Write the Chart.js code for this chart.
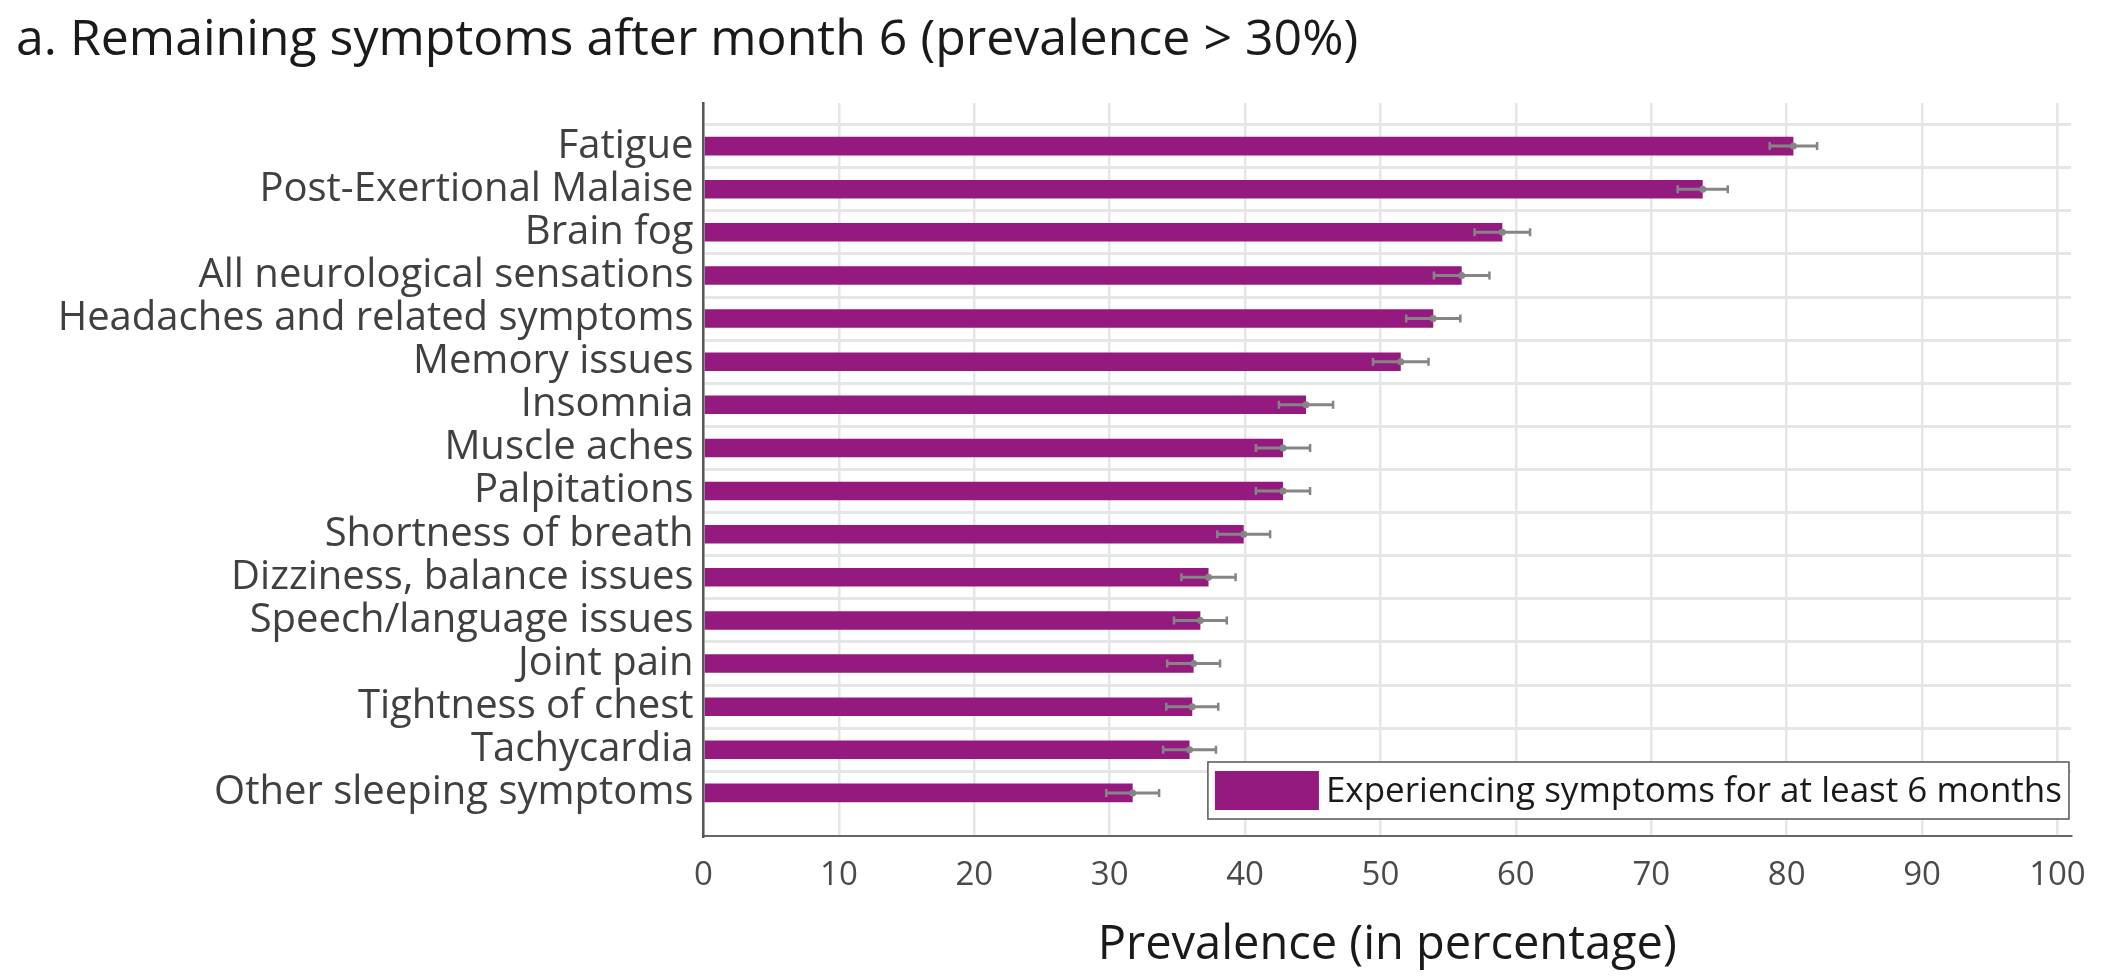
<!DOCTYPE html>
<html>
<head>
<meta charset="utf-8">
<script src="https://cdn.jsdelivr.net/npm/chart.js@4.4.1/dist/chart.umd.min.js"></script>
<style>
  html, body { margin: 0; padding: 0; background: #fff; }
  #wrap { width: 2106px; height: 978px; position: relative; }
</style>
</head>
<body>
<div id="wrap"><canvas id="chart"></canvas></div>
<script>
const symptoms = [
    'Fatigue',
    'Post-Exertional Malaise',
    'Brain fog',
    'All neurological sensations',
    'Headaches and related symptoms',
    'Memory issues',
    'Insomnia',
    'Muscle aches',
    'Palpitations',
    'Shortness of breath',
    'Dizziness, balance issues',
    'Speech/language issues',
    'Joint pain',
    'Tightness of chest',
    'Tachycardia',
    'Other sleeping symptoms'
];
const prevalence = [80.5, 73.8, 59.0, 56.0, 53.9, 51.5, 44.5, 42.8, 42.8, 39.9, 37.3, 36.7, 36.2, 36.1, 35.9, 31.7];
const errorHalf = [1.75, 1.85, 2.05, 2.05, 2.0, 2.05, 2.0, 2.0, 2.0, 1.95, 2.0, 1.95, 1.95, 1.92, 1.95, 1.95];
const xTicks = [0, 10, 20, 30, 40, 50, 60, 70, 80, 90, 100];
const seriesLabel = 'Experiencing symptoms for at least 6 months';
const chartTitle = 'a. Remaining symptoms after month 6 (prevalence > 30%)';
const axisTitle = 'Prevalence (in percentage)';

const FONT = "'Open Sans', sans-serif";
const PURPLE = '#951a7f';

// blank slot above and below so bars sit one row in from the frame
const labels = [''].concat(symptoms, ['']);
const values = [null].concat(prevalence, [null]);
const errs = [null].concat(errorHalf, [null]);

const errorBars = {
    id: 'errorBars',
    afterDatasetsDraw(chart) {
        const ctx = chart.ctx;
        const x = chart.scales.x;
        const y = chart.scales.y;
        ctx.save();
        ctx.strokeStyle = '#858585';
        ctx.fillStyle = '#858585';
        values.forEach((v, i) => {
            if (v == null) return;
            const yc = y.getPixelForValue(i);
            const x0 = x.getPixelForValue(v - errs[i]);
            const x1 = x.getPixelForValue(v + errs[i]);
            ctx.lineWidth = 3;
            ctx.beginPath();
            ctx.moveTo(x0, yc);
            ctx.lineTo(x1, yc);
            ctx.stroke();
            ctx.lineWidth = 2.5;
            ctx.beginPath();
            ctx.moveTo(x0, yc - 4); ctx.lineTo(x0, yc + 4);
            ctx.moveTo(x1, yc - 4); ctx.lineTo(x1, yc + 4);
            ctx.stroke();
            ctx.beginPath();
            ctx.arc(x.getPixelForValue(v), yc, 3.5, 0, Math.PI * 2);
            ctx.fill();
        });
        ctx.restore();
    }
};

// boxed legend sitting inside the plot, bottom right
const boxLegend = {
    id: 'boxLegend',
    afterDraw(chart) {
        const ctx = chart.ctx;
        const area = chart.chartArea;
        const ds = chart.data.datasets[0];
        ctx.save();
        ctx.font = '35px ' + FONT;
        const tw = ctx.measureText(ds.label).width;
        const w = 7 + 104 + 7 + tw + 7;
        const h = 57;
        const right = area.right - 2;
        const bottom = area.bottom - 17;
        const left = right - w;
        const top = bottom - h;
        ctx.fillStyle = '#fff';
        ctx.fillRect(left, top, w, h);
        ctx.strokeStyle = '#555';
        ctx.lineWidth = 1.5;
        ctx.strokeRect(left, top, w, h);
        ctx.fillStyle = ds.backgroundColor;
        ctx.fillRect(left + 7, top + 9, 104, 39);
        ctx.fillStyle = '#1a1a1a';
        ctx.textBaseline = 'alphabetic';
        ctx.fillText(ds.label, left + 118, top + 40);
        ctx.restore();
    }
};

new Chart(document.getElementById('chart'), {
    type: 'bar',
    data: {
        labels: labels,
        datasets: [{
            label: seriesLabel,
            data: values,
            backgroundColor: PURPLE,
            barPercentage: 0.43,
            categoryPercentage: 1
        }]
    },
    options: {
        indexAxis: 'y',
        responsive: true,
        maintainAspectRatio: false,
        animation: false,
        layout: { padding: { left: 16, right: 27, top: 0, bottom: 0 } },
        plugins: {
            legend: { display: false },
            tooltip: { enabled: false },
            title: {
                display: true,
                text: chartTitle,
                align: 'start',
                color: '#1a1a1a',
                font: { family: FONT, size: 50, weight: 'normal' },
                padding: { top: 11, bottom: 32 }
            }
        },
        scales: {
            x: {
                type: 'linear',
                min: 0,
                max: 101,
                afterFit(s) { s.height = 142; },
                afterBuildTicks(s) { s.ticks = xTicks.map(v => ({ value: v })); },
                grid: { color: '#e6e6e6', lineWidth: 2.5, drawTicks: false },
                border: { color: '#666', width: 2 },
                ticks: {
                    color: '#4a4a4a',
                    padding: 20,
                    font: { family: FONT, size: 33 },
                    maxRotation: 0
                },
                title: {
                    display: true,
                    text: axisTitle,
                    color: '#1a1a1a',
                    font: { family: FONT, size: 47 },
                    padding: { top: 0, bottom: 4 }
                }
            },
            y: {
                type: 'category',
                offset: false,
                afterFit(s) { s.width = 687.5; },
                grid: {
                    color: c => (c.tick && c.tick.label === '') ? 'rgba(0,0,0,0)' : '#e6e6e6',
                    lineWidth: 3,
                    drawTicks: false
                },
                border: { color: '#555', width: 2.5 },
                ticks: {
                    autoSkip: false,
                    color: '#404040',
                    padding: 10,
                    font: { family: FONT, size: 40 }
                }
            }
        }
    },
    plugins: [errorBars, boxLegend]
});
</script>
</body>
</html>
